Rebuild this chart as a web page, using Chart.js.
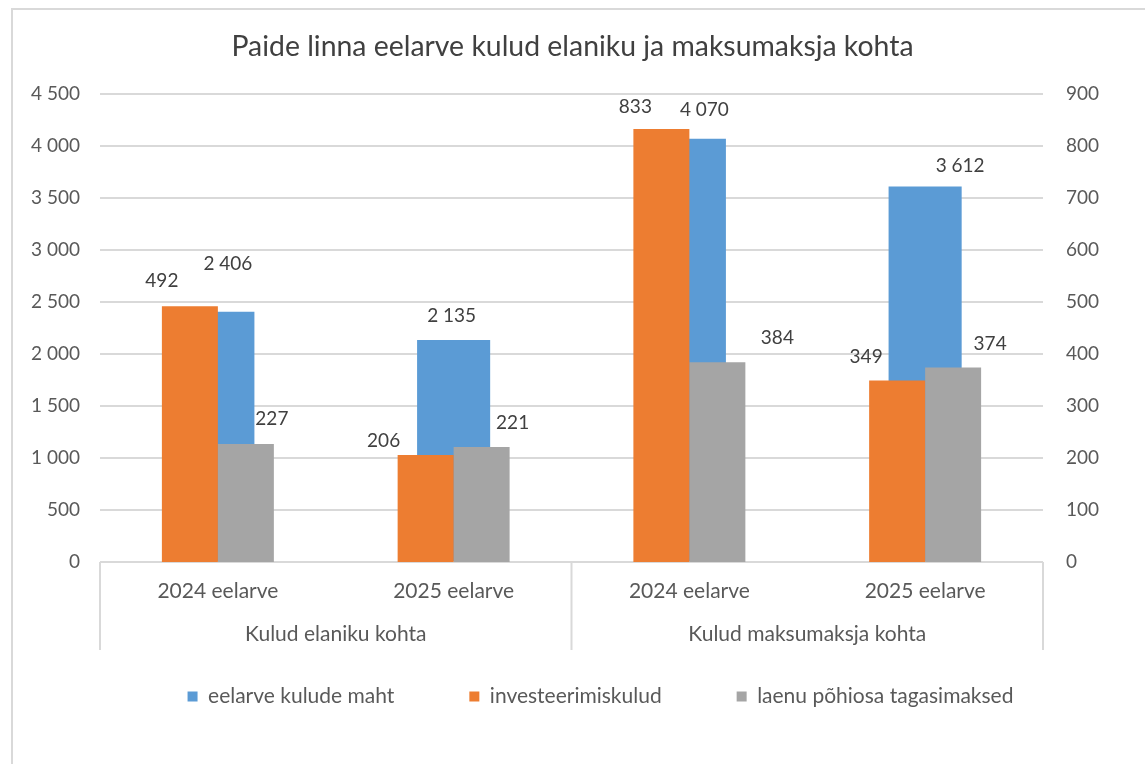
<!DOCTYPE html>
<html lang="et">
<head>
<meta charset="utf-8">
<title>Paide linna eelarve kulud</title>
<script src="https://cdn.jsdelivr.net/npm/chart.js@4.4.1/dist/chart.umd.min.js"></script>
<style>
  html, body { margin: 0; padding: 0; background: #fff; }
  body { width: 1145px; height: 764px; position: relative; overflow: hidden; }
  #frame { position: absolute; left: 11px; top: 8px; width: 1300px; height: 900px;
           border-left: 2px solid #d9d9d9; border-top: 2px solid #d9d9d9; }
  #chart { position: absolute; left: 0; top: 0; }
</style>
</head>
<body>
<div id="frame"></div>
<canvas id="chart" width="1145" height="764"></canvas>
<script>
// data
const categories = ["2024 eelarve", "2025 eelarve", "2024 eelarve", "2025 eelarve"];
const groups = ["Kulud elaniku kohta", "Kulud maksumaksja kohta"];
const kuludeMaht = [2406, 2135, 4070, 3612];        // left axis
const investeeringud = [492, 206, 833, 349];        // right axis
const laenuTagasimaksed = [227, 221, 384, 374];     // right axis
const leftTicks = [0, 500, 1000, 1500, 2000, 2500, 3000, 3500, 4000, 4500];
const rightTicks = [0, 100, 200, 300, 400, 500, 600, 700, 800, 900];

const FONT = "Lato, 'Open Sans', sans-serif";
const TEXT = "#595959";
const GRID = "#d9d9d9";

function fmt(n) {
  return String(n).replace(/\B(?=(\d{3})+(?!\d))/g, " ");
}

// value labels, nudged like in the original
const valueLabels = {
  id: "valueLabels",
  afterDatasetsDraw(chart, args, opts) {
    const ctx = chart.ctx;
    ctx.save();
    ctx.font = opts.font;
    ctx.fillStyle = opts.color;
    ctx.textAlign = "center";
    ctx.textBaseline = "middle";
    chart.data.datasets.forEach((ds, i) => {
      const meta = chart.getDatasetMeta(i);
      const shift = opts.shifts[i];
      meta.data.forEach((bar, j) => {
        ctx.fillText(fmt(ds.data[j]), bar.x + shift[j][0], bar.y + shift[j][1]);
      });
    });
    ctx.restore();
  }
};

// separators for the two category groups
const groupLines = {
  id: "groupLines",
  afterDraw(chart, args, opts) {
    const x = chart.scales.x;
    const mid = (x.getPixelForValue(1) + x.getPixelForValue(2)) / 2;
    const ctx = chart.ctx;
    ctx.save();
    ctx.strokeStyle = opts.color;
    ctx.lineWidth = 2;
    [x.left, mid, x.right].forEach(px => {
      ctx.beginPath();
      ctx.moveTo(px, chart.chartArea.bottom);
      ctx.lineTo(px, chart.chartArea.bottom + opts.length);
      ctx.stroke();
    });
    ctx.restore();
  }
};

// move the legend row to where the original has it
const legendShift = {
  id: "legendShift",
  afterLayout(chart, args, opts) {
    const lg = chart.legend;
    lg.left += opts.dx; lg.right += opts.dx;
    lg.top += opts.dy; lg.bottom += opts.dy;
  }
};

new Chart(document.getElementById("chart"), {
  type: "bar",
  data: {
    labels: categories,
    datasets: [
      {
        label: "eelarve kulude maht",
        data: kuludeMaht,
        yAxisID: "y",
        backgroundColor: "#5b9bd5",
        grouped: false,
        order: 1,
        categoryPercentage: 0.31,
        barPercentage: 1
      },
      {
        label: "investeerimiskulud",
        data: investeeringud,
        yAxisID: "y1",
        backgroundColor: "#ed7d31",
        order: 0,
        categoryPercentage: 0.475,
        barPercentage: 1
      },
      {
        label: "laenu põhiosa tagasimaksed",
        data: laenuTagasimaksed,
        yAxisID: "y1",
        backgroundColor: "#a5a5a5",
        order: 0,
        categoryPercentage: 0.475,
        barPercentage: 1
      }
    ]
  },
  options: {
    responsive: false,
    animation: false,
    layout: { padding: 0 },
    scales: {
      x: {
        afterFit: s => { s.height = 50; },
        grid: { display: false, drawTicks: false },
        border: { display: false },
        ticks: { color: TEXT, font: { family: FONT, size: 21 }, padding: 17, maxRotation: 0 }
      },
      x2: {
        type: "category",
        labels: groups,
        position: "bottom",
        offset: true,
        afterFit: s => { s.height = 47; },
        grid: { display: false, drawTicks: false },
        border: { display: false },
        ticks: { color: TEXT, font: { family: FONT, size: 21 }, padding: 10, maxRotation: 0 }
      },
      y: {
        position: "left",
        min: 0,
        max: 4500,
        afterBuildTicks: s => { s.ticks = leftTicks.map(v => ({ value: v })); },
        afterFit: s => { s.width = 100; },
        grid: { color: GRID, lineWidth: 2, drawTicks: false },
        border: { display: false },
        ticks: { color: TEXT, font: { family: FONT, size: 19 }, padding: 20, callback: v => fmt(v) }
      },
      y1: {
        position: "right",
        min: 0,
        max: 900,
        afterBuildTicks: s => { s.ticks = rightTicks.map(v => ({ value: v })); },
        afterFit: s => { s.width = 102; },
        grid: { display: false, drawTicks: false },
        border: { display: false },
        ticks: { color: TEXT, font: { family: FONT, size: 19 }, padding: 23, callback: v => fmt(v) }
      }
    },
    plugins: {
      title: {
        display: true,
        text: "Paide linna eelarve kulud elaniku ja maksumaksja kohta",
        color: "#404040",
        font: { family: FONT, size: 28.4, weight: "normal" },
        padding: { top: 30, bottom: 30 }
      },
      legend: {
        position: "bottom",
        maxHeight: 105,
        labels: {
          color: TEXT,
          font: { family: FONT, size: 21 },
          boxWidth: 10,
          boxHeight: 10,
          padding: 75,
          sort: (a, b) => a.datasetIndex - b.datasetIndex
        }
      },
      tooltip: { enabled: false },
      valueLabels: {
        font: "19px " + FONT,
        color: "#404040",
        shifts: [
          [[10, -48], [-2, -24], [15, -29], [35, -21]],
          [[-28, -25], [-42, -14], [-26, -22], [-31, -24]],
          [[26, -25], [31, -24], [60, -24], [37, -24]]
        ]
      },
      groupLines: { color: GRID, length: 88 },
      legendShift: { dx: 28, dy: -48 }
    }
  },
  plugins: [valueLabels, groupLines, legendShift]
});
</script>
</body>
</html>
